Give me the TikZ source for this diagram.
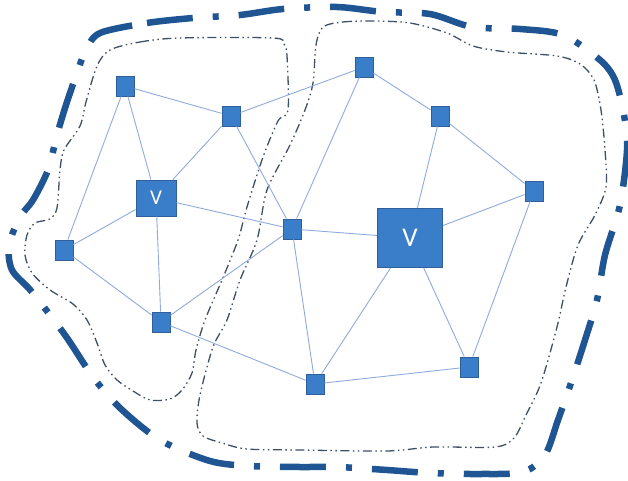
\documentclass[tikz,border=0pt]{standalone}
\usepackage{fontspec}
\setmainfont{Carlito}
\definecolor{nodefill}{HTML}{3A7DC9}
\definecolor{nodeborder}{HTML}{2F5F9A}
\definecolor{linkc}{HTML}{8FAADC}
\definecolor{outerc}{HTML}{1F5592}
\definecolor{innerc}{HTML}{3F4F66}
\begin{document}
\begin{tikzpicture}[x=1pt,y=-1pt,
  sq/.style={draw=nodeborder, fill=nodefill, line width=0.9pt, minimum width=18pt, minimum height=20pt, inner sep=0pt},
  vbox/.style={sq, text=white, minimum width=40pt, minimum height=36pt, font=\fontsize{21}{21}\selectfont},
  vbig/.style={sq, text=white, minimum width=65pt, minimum height=59pt, font=\fontsize{27}{27}\selectfont},
  link/.style={draw=linkc, line width=0.9pt},
  outerline/.style={draw=outerc, line width=6.5pt, dash pattern=on 46pt off 20pt on 6pt off 20pt},
  innerline/.style={draw=innerc, line width=1.3pt, dash pattern=on 9pt off 3.5pt on 1.5pt off 3.5pt on 1.5pt off 3.5pt}]
\useasboundingbox (0,0) rectangle (628,481);

% outer thick boundary
\draw[outerline] plot[smooth cycle, tension=0.5] coordinates {
 (100,33) (147,23) (193,18) (240,15) (283,9) (337,7) (383,12) (430,14)
 (472,27) (520,29) (563,35) (600,60) (615,80) (624,115) (627,150) (620,205)
 (605,255) (597,300) (585,340) (572,380) (558,420) (545,455) (523,472)
 (480,474) (430,473) (387,470) (338,467) (300,467) (250,466) (210,461)
 (160,440) (120,408) (93,377) (65,335) (32,292) (12,270) (9,245) (20,217)
 (33,200) (48,170) (57,135) (66,105) (78,70) (86,50)};

% left inner boundary
\draw[innerline] plot[smooth cycle, tension=0.5] coordinates {
 (110,50) (140,42) (180,38) (273,38) (284,44) (287,56) (288,110) (278,121)
 (263,157) (247,207) (238,240) (222,280) (205,320) (196,350) (192,373)
 (182,390) (170,399) (150,400) (133,391) (117,380) (105,365) (97,343)
 (87,320) (73,304) (50,290) (32,273) (25,255) (27,235) (35,223) (50,219)
 (57,208) (60,170) (64,150) (80,126) (86,102) (97,66)};

% right inner boundary
\draw[innerline] plot[smooth cycle, tension=0.5] coordinates {
 (323,27) (343,22) (373,21) (410,23) (447,33) (473,46) (507,52) (557,56)
 (580,64) (594,80) (601,110) (605,150) (606,187) (595,215) (578,245)
 (566,287) (557,327) (541,383) (526,415) (514,438) (495,447) (433,447)
 (387,451) (300,450) (247,449) (222,443) (203,436) (197,423) (200,395)
 (213,347) (227,320) (240,280) (257,240) (267,190) (290,145) (305,110)
 (313,83) (316,45)};

% nodes
\node[sq] (A) at (125,86) {};
\node[sq] (B) at (231,116) {};
\node[vbox] (V1) at (156,198) {V};
\node[sq] (C) at (292,229) {};
\node[sq] (D) at (364,67) {};
\node[sq] (E) at (440,116) {};
\node[sq] (F) at (534,191) {};
\node[vbig] (V2) at (410,238) {V};
\node[sq] (G) at (64,250) {};
\node[sq] (H) at (161,322) {};
\node[sq] (I) at (315,384) {};
\node[sq] (J) at (469,367) {};

% connectors
\draw[link] (A) -- (B);
\draw[link] (A) -- (V1);
\draw[link] (A) -- (G);
\draw[link] (B) -- (V1);
\draw[link] (B) -- (D);
\draw[link] (B) -- (C);
\draw[link] (V1) -- (G);
\draw[link] (V1) -- (H);
\draw[link] (V1) -- (C);
\draw[link] (G) -- (H);
\draw[link] (H) -- (C);
\draw[link] (H) -- (I);
\draw[link] (C) -- (D);
\draw[link] (C) -- (V2);
\draw[link] (C) -- (I);
\draw[link] (D) -- (E);
\draw[link] (E) -- (V2);
\draw[link] (E) -- (F);
\draw[link] (F) -- (V2);
\draw[link] (F) -- (J);
\draw[link] (V2) -- (I);
\draw[link] (V2) -- (J);
\draw[link] (I) -- (J);
\end{tikzpicture}
\end{document}
